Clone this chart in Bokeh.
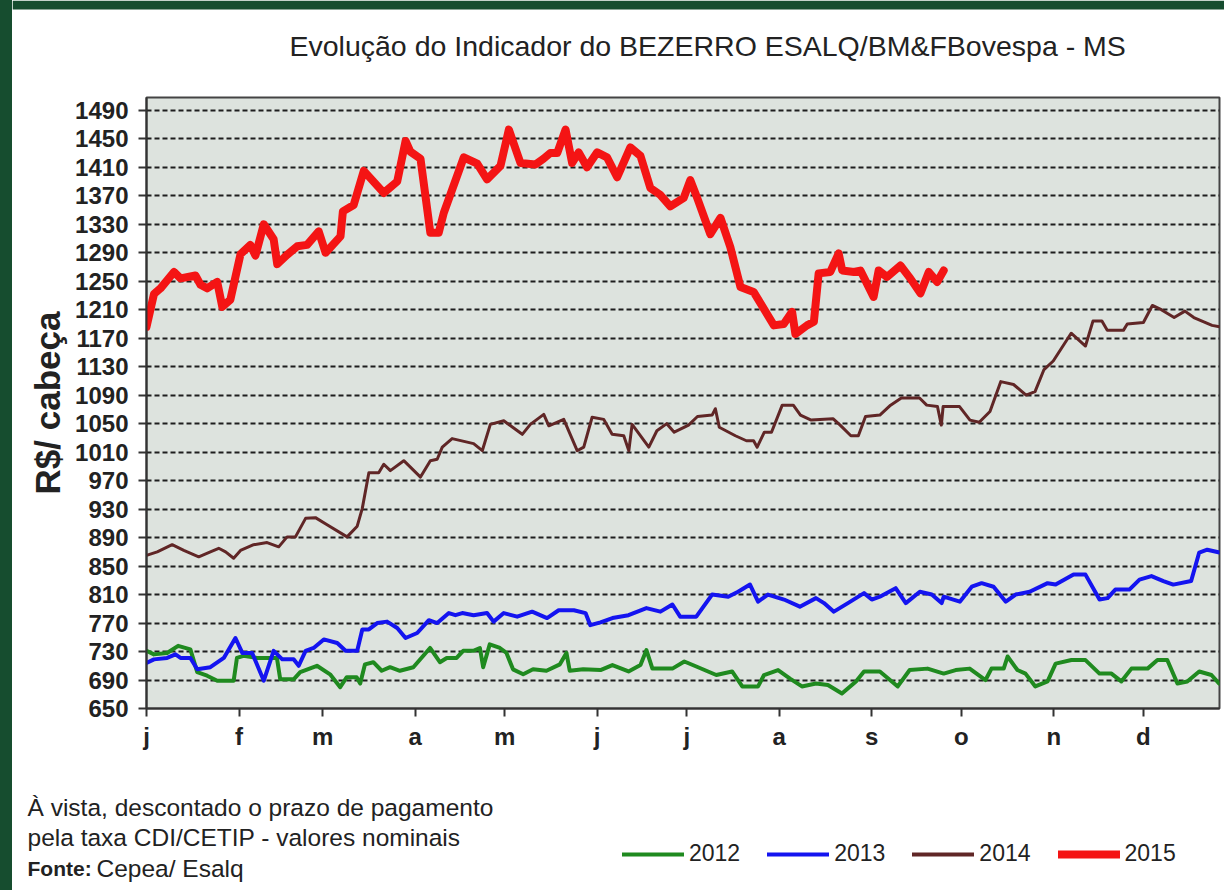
from bokeh.plotting import figure
from bokeh.models import (Range1d, FixedTicker, Label, Legend, LegendItem, BoxAnnotation, Div)
from bokeh.layouts import row, column
from bokeh.embed import file_html
from bokeh.resources import INLINE

# ---------------- data ----------------
month_labels = ["j", "f", "m", "a", "m", "j", "j", "a", "s", "o", "n", "d"]
month_start_days = [0, 31, 59, 90, 120, 151, 181, 212, 243, 273, 304, 334]
y_tick_values = list(range(650, 1491, 40))

days_2012 = [0, 2.5, 6.9, 10.6, 14.7, 17, 20.3, 23.7, 27, 29.2, 30.3, 32.5, 37, 43.7, 44.8, 49.3, 51.5, 57.1,
             61.5, 64.9, 67.1, 70.4, 71.6, 73.2, 76, 78.8, 81.6, 84.9, 89.4, 95, 98.3, 100.6, 103.9, 106.1,
             109.5, 111.7, 112.8, 115, 118.4, 120.6, 122.8, 126.2, 129.5, 134, 138.5, 140.7, 141.8, 146.3,
             152.1, 156.1, 161.5, 165.5, 167.5, 169.5, 176.2, 180.2, 184.2, 190.9, 196.2, 199.6, 204.9,
             206.9, 211.6, 215.6, 219.6, 224.3, 228.3, 233, 237.7, 240.4, 245.7, 251.7, 255.7, 261.7, 267.1,
             271.1, 275.8, 281.1, 283.1, 287.2, 288.5, 291.8, 294.5, 297.8, 301.9, 304.6, 309.9, 314.6,
             319.3, 323.3, 326.6, 330, 335.4, 338.7, 342, 345.4, 348.7, 352.7, 356.8, 359.4]
vals_2012 = [731, 726, 728, 738, 733, 701, 696, 689, 689, 689, 721, 724, 721, 721, 691, 691, 701, 710,
             698, 680, 694, 694, 685, 712, 715, 703, 708, 703, 708, 735, 715, 721, 721, 731,
             731, 735, 708, 740, 735, 728, 705, 698, 705, 703, 712, 728, 703, 705,
             704, 711, 702, 711, 732, 706, 706, 716, 709, 697, 702, 681, 681,
             697, 704, 692, 681, 685, 683, 671, 688, 702, 702, 681, 704, 706, 699,
             704, 706, 690, 706, 706, 723, 704, 699, 681, 688, 713, 718, 718,
             699, 699, 688, 706, 706, 718, 718, 685, 688, 702, 697, 685]

days_2013 = [0, 2.5, 6.9, 9.7, 11.4, 14.7, 17, 21.4, 25.9, 29.8, 32.1, 35.4, 39.3, 42.6, 45.5, 49.3, 51,
             53.3, 56, 59.4, 63.9, 66.7, 70.6, 72.3, 74.5, 77.3, 80.6, 84, 86.8, 90.7, 94.6, 97.4, 101.3,
             103.5, 105.8, 109.6, 114.1, 116.3, 119.7, 124.2, 129.2, 134.2, 138.1, 143.2, 147.1, 148.7,
             152.1, 156.1, 161.5, 167.5, 172.2, 176.2, 178.8, 184.2, 189.5, 194.9, 198.2, 202.2, 204.9,
             208.2, 213.6, 218.9, 224.3, 227, 230.3, 235, 240.4, 243, 245.7, 251, 254.4, 259.1, 263.1,
             266.4, 267.1, 272.5, 276.5, 279.8, 283.8, 287.9, 291.2, 295.9, 301.9, 304.6, 310.6, 314.6,
             319.3, 322, 324.6, 329.3, 332.7, 336.7, 340.7, 344, 350, 352.7, 355.4, 359.5]
vals_2013 = [714, 719, 721, 726, 721, 721, 705, 708, 721, 749, 728, 728, 689, 731, 719, 719, 710,
             731, 735, 747, 742, 731, 731, 761, 761, 770, 772, 763, 749, 756, 774, 770, 784,
             781, 784, 781, 784, 772, 784, 779, 786, 777, 788, 788, 784, 767,
             771, 777, 781, 791, 786, 796, 779, 779, 810, 807, 814, 824, 800,
             810, 803, 793, 805, 798, 786, 798, 812, 803, 807, 819, 798, 814, 810,
             798, 807, 800, 821, 826, 821, 800, 810, 814, 826, 824, 838, 838,
             803, 805, 817, 817, 831, 836, 829, 824, 829, 869, 873, 869]

days_2014 = [0, 3.6, 8.6, 12.5, 17.5, 21.4, 24.2, 26.5, 29.2, 31.5, 35.9, 40.4, 44.3, 47.1, 49.9, 53.3,
             56.6, 60.5, 67.2, 70.6, 72.3, 74.5, 77.8, 79.5, 81.7, 86.2, 91.8, 95.1, 97.4, 99.1, 102.4,
             109.6, 112.5, 115.2, 119.7, 125.9, 128.6, 133.1, 134.8, 139.8, 144.3, 146.5, 149.3, 153.2,
             156, 159.9, 161.6, 162.7, 168.3, 171, 174.3, 176.8, 181.6, 184.6, 189.5, 190.6, 191.9,
             197.3, 201, 203.4, 204.6, 207, 209.4, 213, 216.7, 219.1, 222.7, 230, 232.4, 236, 238.5,
             240.9, 245.7, 249.3, 252.9, 259, 261.4, 265, 266.3, 266.9, 272.4, 275.9, 279, 282.6,
             286.2, 290.5, 294.7, 297.7, 300.7, 303.8, 309.8, 314.6, 317.1, 320.1, 321.9, 327.3,
             328.6, 334, 337, 340, 344.3, 347.9, 350.9, 357, 359.5]
vals_2014 = [865, 870, 880, 872, 863, 870, 875, 870, 861, 872, 880, 883, 877, 891, 891, 917,
             918, 908, 891, 906, 931, 981, 981, 993, 984, 998, 975, 998, 1000, 1017, 1029,
             1022, 1012, 1049, 1054, 1035, 1049, 1063, 1047, 1056, 1012, 1017, 1059, 1056,
             1035, 1033, 1012, 1049, 1017, 1040, 1050, 1038, 1048, 1060, 1062, 1071, 1045,
             1033, 1026, 1026, 1017, 1038, 1038, 1076, 1076, 1062, 1055, 1057, 1048, 1033, 1033,
             1060, 1062, 1076, 1086, 1086, 1076, 1074, 1048, 1074, 1074, 1055, 1052, 1067,
             1109, 1105, 1090, 1095, 1126, 1138, 1177, 1159, 1194, 1194, 1181, 1181,
             1190, 1192, 1216, 1210, 1199, 1208, 1199, 1188, 1186]

days_2015 = [0, 2.5, 4.7, 9.2, 11.4, 16.4, 18.1, 20.3, 23.7, 25.4, 28.1, 31.5, 34.8, 36.5, 39.3, 42.6,
             43.8, 47.1, 50.5, 53.8, 57.7, 60, 65, 65.8, 69.4, 72.8, 79.5, 84, 86.8, 88.4, 91.8, 95.1,
             97.9, 99.6, 106.3, 110.8, 114.1, 118.6, 121.4, 125.3, 130.3, 133, 135.3, 137.6, 140.4,
             142.6, 144.8, 147.6, 151, 154.3, 157.7, 162.1, 165.5, 168.8, 172.2, 175.5, 180, 182.2,
             184.5, 188.9, 192.3, 195.6, 199, 203.4, 210.2, 213.5, 216.3, 217.4, 221.3, 223.6, 225.2,
             229.1, 231.9, 233.1, 237, 239.2, 243.6, 245.3, 248.1, 252.6, 255.9, 259.3, 262.1, 264.9,
             267.1]
vals_2015 = [1186, 1232, 1240, 1263, 1254, 1258, 1245, 1240, 1249, 1214, 1224, 1288, 1301, 1286, 1330, 1309,
             1274, 1287, 1299, 1301, 1320, 1290, 1313, 1348, 1357, 1405, 1374, 1390, 1447, 1432, 1422, 1318,
             1318, 1346, 1424, 1415, 1393, 1412, 1463, 1416, 1414, 1422, 1430, 1430, 1463,
             1416, 1431, 1410, 1431, 1424, 1396, 1438, 1426, 1381, 1371, 1355, 1367, 1392,
             1367, 1316, 1339, 1298, 1242, 1235, 1188, 1190, 1207, 1176, 1188, 1193, 1261,
             1263, 1289, 1265, 1263, 1265, 1228, 1265, 1256, 1272, 1254, 1233, 1263, 1249,
             1265]

series_names = ["2012", "2013", "2014", "2015"]
series_colors = ["#1f8a1f", "#1414f0", "#602626", "#f41414"]
series_widths = [4, 4, 3, 8]

title_text = "Evolução  do Indicador do BEZERRO  ESALQ/BM&FBovespa   - MS"
y_label = "R$/ cabeça"
note_1 = "À vista, descontado o prazo de pagamento"
note_2 = "pela taxa CDI/CETIP   - valores nominais"
note_3a = "Fonte:"
note_3b = "Cepea/ Esalq"

FONT = "Liberation Sans"
TEXT_COLOR = "#222222"
GREEN_FRAME = "#164d2f"
W = 1212  # width of the column right of the green strip

# ---------------- top strip with title ----------------
top = figure(width=W, height=68, x_range=Range1d(0, W), y_range=Range1d(0, 68),
             x_axis_type=None, y_axis_type=None, output_backend="svg", toolbar_location=None,
             min_border=0, outline_line_color=None, background_fill_color="white",
             border_fill_color="white", frame_align=False)
top.grid.visible = False
top.add_layout(BoxAnnotation(left=0, right=W, bottom=59, top=68,
                             fill_color=GREEN_FRAME, fill_alpha=1, line_color=None))
top.add_layout(Label(x=711, y=23, text=title_text, text_font=FONT, text_font_size="28.5px",
                     text_color=TEXT_COLOR, text_align="center", text_baseline="middle"))

# ---------------- main chart ----------------
p = figure(width=W, height=702,
           x_range=Range1d(0, 359.5), y_range=Range1d(650, 1508),
           output_backend="svg", toolbar_location=None,
           min_border_left=134, min_border_right=5, min_border_top=29, min_border_bottom=62,
           background_fill_color="#dde3de", border_fill_color="white", frame_align=False)

p.outline_line_color = "#444444"
p.outline_line_width = 2

p.xgrid.visible = False
p.ygrid.ticker = FixedTicker(ticks=y_tick_values)
p.ygrid.grid_line_color = "#1e1e1e"
p.ygrid.grid_line_width = 2
p.ygrid.grid_line_dash = "5 3"

p.xaxis.ticker = FixedTicker(ticks=month_start_days)
p.xaxis.major_label_overrides = {d: m for d, m in zip(month_start_days, month_labels)}
p.yaxis.ticker = FixedTicker(ticks=y_tick_values)

for ax in (p.xaxis[0], p.yaxis[0]):
    ax.axis_line_color = "#333333"
    ax.axis_line_width = 2
    ax.major_tick_line_color = "#333333"
    ax.major_tick_line_width = 2
    ax.major_tick_in = 0
    ax.major_tick_out = 8
    ax.minor_tick_line_color = None
    ax.major_label_text_font = FONT
    ax.major_label_text_font_style = "bold"
    ax.major_label_text_font_size = "24px"
    ax.major_label_text_color = TEXT_COLOR

p.xaxis.major_label_standoff = 6
p.yaxis.major_label_standoff = 10
p.yaxis.axis_label = y_label
p.yaxis.axis_label_text_font = FONT
p.yaxis.axis_label_text_font_style = "bold"
p.yaxis.axis_label_text_font_size = "35px"
p.yaxis.axis_label_text_color = TEXT_COLOR
p.yaxis.axis_label_standoff = 5

days_all = [days_2012, days_2013, days_2014, days_2015]
vals_all = [vals_2012, vals_2013, vals_2014, vals_2015]
for name, d, v, c, w in zip(series_names, days_all, vals_all, series_colors, series_widths):
    p.line(d, v, line_color=c, line_width=w, line_join="round", line_cap="round")

# ---------------- bottom strip: notes + legend ----------------
bot = figure(width=W, height=120, x_range=Range1d(0, W), y_range=Range1d(0, 120),
             x_axis_type=None, y_axis_type=None, output_backend="svg", toolbar_location=None,
             min_border=0, outline_line_color=None, background_fill_color="white",
             border_fill_color="white", frame_align=False)
bot.grid.visible = False

legend_widths = [4, 4, 4, 8]
items = []
for name, d, v, c, w in zip(series_names, days_all, vals_all, series_colors, legend_widths):
    # same series, outside this strip's visible range: only the legend swatch shows
    r = bot.line(d, v, line_color=c, line_width=w, line_cap="round")
    items.append(LegendItem(label=name, renderers=[r]))
legend = Legend(items=items, orientation="horizontal", location=(610, 23),
                glyph_width=62, glyph_height=20, label_standoff=5, spacing=27,
                padding=0, margin=0, border_line_color=None, background_fill_alpha=0,
                label_text_font=FONT, label_text_font_size="23px", label_text_color=TEXT_COLOR)
bot.add_layout(legend)

def add_note(x, y, text, size="24.5px", style="normal"):
    bot.add_layout(Label(x=x, y=y, text=text, text_font=FONT, text_font_size=size,
                         text_font_style=style, text_color=TEXT_COLOR,
                         text_align="left", text_baseline="middle"))

add_note(15, 83, note_1)
add_note(15, 53, note_2)
add_note(15, 22, note_3a, size="21px", style="bold")
add_note(84, 22, note_3b)

strip = Div(text="", width=12, height=890, margin=0,
            styles={"background-color": GREEN_FRAME})

layout = row(strip, column(top, p, bot, spacing=0), spacing=0)

html = file_html(layout, INLINE)
open("out.html", "w").write(html)
